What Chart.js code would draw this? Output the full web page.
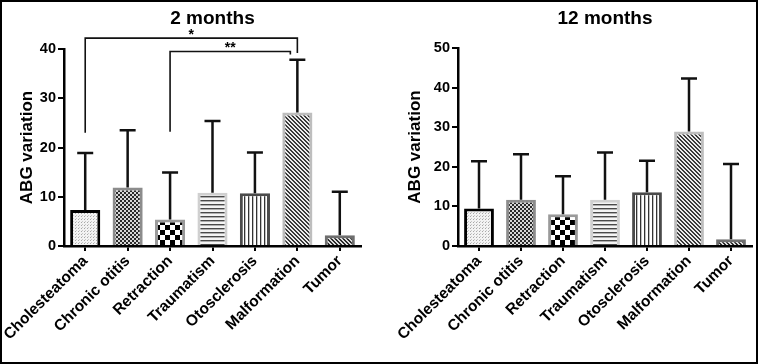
<!DOCTYPE html>
<html><head><meta charset="utf-8">
<script src="https://cdn.jsdelivr.net/npm/chart.js@4"></script>
<style>
html,body{margin:0;padding:0;background:#fff;}
#wrap{position:relative;width:759px;height:364px;overflow:hidden;background:#fff;}
#c1{position:absolute;left:0;top:0;}
#c2{position:absolute;left:380px;top:0;}
#frame{position:absolute;left:0;top:0;width:758px;height:364px;box-sizing:border-box;border:2px solid #000;pointer-events:none;}
</style>
</head><body>
<div id="wrap">
<canvas id="c1" width="380" height="364"></canvas>
<canvas id="c2" width="379" height="364"></canvas>
<div id="frame"></div>
</div>
<script>
// ---- data ----
const categories = ['Cholesteatoma','Chronic otitis','Retraction','Traumatism','Otosclerosis','Malformation','Tumor'];
const means2m  = [7.3, 11.9, 5.4, 10.8, 10.7, 27.1, 2.2];
const upper2m  = [18.9, 23.5, 14.9, 25.4, 19.0, 37.8, 11.0];
const means12m = [9.5, 11.7, 8.0, 11.7, 13.6, 28.9, 1.7];
const upper12m = [21.4, 23.2, 17.6, 23.6, 21.5, 42.3, 20.7];
const yTicks2m  = [0, 10, 20, 30, 40];
const yTicks12m = [0, 10, 20, 30, 40, 50];
const titles = ['2 months', '12 months'];
const yTitle = 'ABG variation';
// significance brackets (2 months)
const sigFrom = ['Cholesteatoma', 'Retraction'];
const sigTo = ['Malformation', 'Malformation'];
const sigLevel = [42.2, 39.5];
const sigLeftEnd = [23.0, 23.2];
const sigRightEnd = [39.2, 38.9];
const sigLabels = ['*', '**'];

const FONT = "'Liberation Sans', Arial, sans-serif";

function makePatterns(ctx){
  function tile(size, draw){
    const c = document.createElement('canvas'); c.width = size; c.height = size;
    const t = c.getContext('2d'); draw(t, size); return ctx.createPattern(c, 'repeat');
  }
  return [
    tile(3, (t)=>{ t.fillStyle='#f3f3f3'; t.fillRect(0,0,3,3); t.fillStyle='#a8a8a8'; t.fillRect(0,0,1,1); t.fillStyle='#c8c8c8'; t.fillRect(1,2,1,1);} ),
    tile(4, (t)=>{ t.fillStyle='#d8d8d8'; t.fillRect(0,0,4,4); t.fillStyle='#2a2a2a'; t.fillRect(0,0,2,2); t.fillRect(2,2,2,2);} ),
    tile(10,(t)=>{ t.fillStyle='#ffffff'; t.fillRect(0,0,10,10); t.fillStyle='#000'; t.fillRect(0,0,5,5); t.fillRect(5,5,5,5);} ),
    tile(4, (t)=>{ t.fillStyle='#f4f4f4'; t.fillRect(0,0,4,4); t.fillStyle='#4a4a4a'; t.fillRect(0,0,4,1.4);} ),
    tile(4, (t)=>{ t.fillStyle='#ffffff'; t.fillRect(0,0,4,4); t.fillStyle='#333'; t.fillRect(0,0,1.3,4);} ),
    tile(4, (t)=>{ t.fillStyle='#ececec'; t.fillRect(0,0,4,4); t.fillStyle='#3a3a3a'; for(let i=0;i<4;i++){ t.fillRect(i,i,1,1); t.fillRect((i+1)%4,i,1,1);} } ),
    tile(4, (t)=>{ t.fillStyle='#dcdcdc'; t.fillRect(0,0,4,4); t.fillStyle='#2a2a2a'; for(let i=0;i<4;i++){ t.fillRect(i,i,1,1); t.fillRect((i+1)%4,i,1,1);} } )
  ];
}
const borderColors = ['#000000','#8c8c8c','#9a9a9a','#d0d0d0','#4a4a4a','#bebebe','#6e6e6e'];

function errorBarPlugin(upper){
  return {
    id: 'errorBars',
    afterDatasetsDraw(chart){
      const ctx = chart.ctx, meta = chart.getDatasetMeta(0), ys = chart.scales.y;
      ctx.save(); ctx.strokeStyle = '#111'; ctx.lineWidth = 2.5; ctx.lineCap = 'butt';
      meta.data.forEach((bar, i) => {
        const yt = ys.getPixelForValue(upper[i]);
        ctx.beginPath();
        ctx.moveTo(bar.x, bar.y); ctx.lineTo(bar.x, yt);
        ctx.moveTo(bar.x - 8, yt); ctx.lineTo(bar.x + 8, yt);
        ctx.stroke();
      });
      ctx.restore();
    }
  };
}

const bracketPlugin = {
  id: 'brackets',
  afterDraw(chart){
    const ctx = chart.ctx, xs = chart.scales.x, ys = chart.scales.y;
    ctx.save(); ctx.strokeStyle = '#111'; ctx.lineWidth = 1.6; ctx.fillStyle = '#000';
    ctx.font = 'bold 14px ' + FONT; ctx.textAlign = 'center'; ctx.textBaseline = 'middle';
    const rightShift = [0, -7];
    for (let k = 0; k < sigLabels.length; k++){
      const x1 = xs.getPixelForValue(categories.indexOf(sigFrom[k]));
      const x2 = xs.getPixelForValue(categories.indexOf(sigTo[k])) + rightShift[k];
      const yTop = ys.getPixelForValue(sigLevel[k]);
      ctx.beginPath();
      ctx.moveTo(x1, ys.getPixelForValue(sigLeftEnd[k]));
      ctx.lineTo(x1, yTop); ctx.lineTo(x2, yTop);
      ctx.lineTo(x2, ys.getPixelForValue(sigRightEnd[k]));
      ctx.stroke();
      ctx.fillText(sigLabels[k], (x1 + x2) / 2, yTop - 3);
    }
    ctx.restore();
  }
};

function build(canvasId, title, means, upper, yTicks, padLeft, yWidth, padRight, yTitlePad, top, extraPlugins){
  const ctx = document.getElementById(canvasId).getContext('2d');
  const patterns = makePatterns(ctx);
  return new Chart(ctx, {
    type: 'bar',
    data: {
      labels: categories,
      datasets: [{
        data: means,
        backgroundColor: patterns,
        borderColor: borderColors,
        borderWidth: 3,
        borderSkipped: 'start',
        categoryPercentage: 1,
        barPercentage: 0.71
      }]
    },
    options: {
      responsive: false,
      animation: false,
      devicePixelRatio: 1,
      layout: { padding: { left: padLeft, right: padRight, top: 0, bottom: 0 } },
      plugins: {
        legend: { display: false },
        tooltip: { enabled: false },
        title: {
          display: true, text: title, color: '#000', fullSize: false,
          font: { family: FONT, size: 19, weight: 'bold' },
          padding: { top: 7, bottom: top - 7 - 22.8 }
        }
      },
      scales: {
        x: {
          afterFit: s => { s.height = 118; s.paddingLeft = 0; s.paddingRight = 0; },
          border: { display: true, color: '#000', width: 2.5 },
          grid: { display: true, drawOnChartArea: false, offset: false, tickLength: 5, color: '#000', lineWidth: 2 },
          ticks: { minRotation: 45, maxRotation: 45, autoSkip: false, color: '#000', padding: 1,
                   font: { family: FONT, size: 15.5, weight: 'bold' } }
        },
        y: {
          min: yTicks[0], max: yTicks[yTicks.length - 1],
          afterBuildTicks: s => { s.ticks = yTicks.map(v => ({ value: v })); },
          afterFit: s => { s.width = yWidth; },
          border: { display: true, color: '#000', width: 2.5 },
          grid: { display: true, drawOnChartArea: false, tickLength: 6, color: '#000', lineWidth: 2 },
          ticks: { color: '#000', padding: 2, font: { family: FONT, size: 14.5, weight: 'bold' } },
          title: { display: true, text: yTitle, color: '#000', padding: { top: yTitlePad, bottom: 0 },
                   font: { family: FONT, size: 17, weight: 'bold' } }
        }
      }
    },
    plugins: [errorBarPlugin(upper)].concat(extraPlugins)
  });
}

build('c1', titles[0], means2m, upper2m, yTicks2m, 0, 64, 19, 17.5, 49, [bracketPlugin]);
build('c2', titles[1], means12m, upper12m, yTicks12m, 0, 78, 7, 25.5, 48, []);
</script>
</body></html>
